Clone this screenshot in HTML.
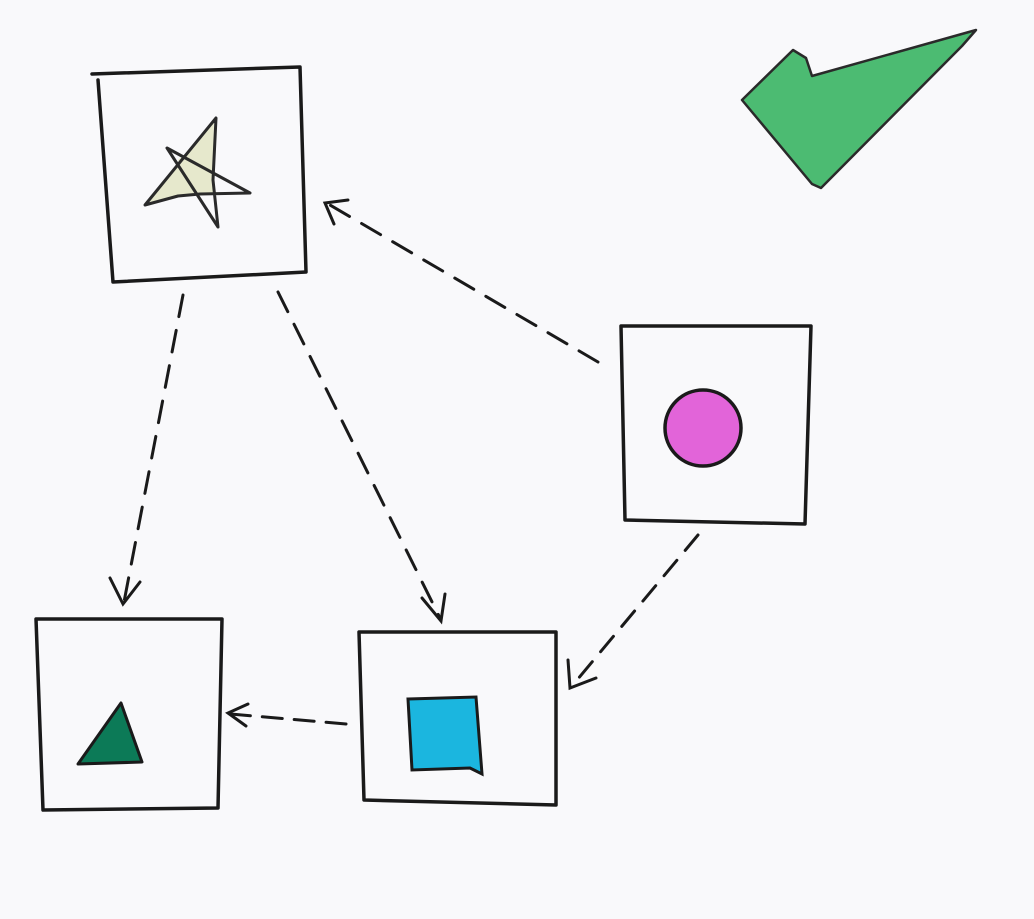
<!DOCTYPE html>
<html><head><meta charset="utf-8"><style>
html,body{margin:0;padding:0;background:#f9f9fb;}
svg{display:block;}
</style></head><body>
<svg width="1034" height="919" viewBox="0 0 1034 919" xmlns="http://www.w3.org/2000/svg">
<rect width="1034" height="919" fill="#f9f9fb"/>
<g fill="none" stroke="#1a1a1a" stroke-width="3.5" stroke-linejoin="round" stroke-linecap="round">
<path d="M92,74 L300,67 L306,272 L113,282 L98,80"/>
<path d="M621,326 L811,326 L805,524 L625,520 Z"/>
<path d="M36,619 L222,619 L218,808 L43,810 Z"/>
<path d="M359,632 L556,632 L556,805 L364,800 Z"/>
</g>
<path d="M742,100 L793,50 L806,58 L812,76 L976,30 L962,46 L821,188 L812,184 Z" fill="#4cbb72" stroke="#2a2a2a" stroke-width="2.5" stroke-linejoin="round"/>
<!-- star -->
<path d="M147,204 L214,120 L213,192 L248,193 L180,196 Z" fill="#e6e8cc"/>
<path d="M178,160 L213,130 L212,192 L185,188 Z" fill="#e6e8cc"/>
<path d="M145,205 L216,118 L213,180 L218,227 L167,148 L250,193 L200,194 L178,196 Z" fill="none" stroke="#2a2a2a" stroke-width="3" stroke-linejoin="round"/>
<circle cx="703" cy="428" r="38" fill="#e264d9" stroke="#1a1a1a" stroke-width="3.5"/>
<path d="M408,699 L476,697 L482,774 L470,768 L412,770 Z" fill="#1bb6df" stroke="#1a1a1a" stroke-width="3"/>
<path d="M78,764 L121,703 L142,762 Z" fill="#0c7a57" stroke="#1a1a1a" stroke-width="3" stroke-linejoin="round"/>
<g fill="none" stroke="#1a1a1a" stroke-width="3" stroke-linecap="round">
<path d="M598,362 L330,205" stroke-dasharray="22,14"/>
<path d="M334,224 L325,203 L348,200"/>
<path d="M183,295 L124,602" stroke-dasharray="22,14"/>
<path d="M110,578 L123,604 L140,582"/>
<path d="M278,292 L440,618" stroke-dasharray="22,14"/>
<path d="M422,598 L441,621 L445,594"/>
<path d="M698,535 L572,686" stroke-dasharray="20,13"/>
<path d="M568,660 L570,688 L596,678"/>
<path d="M346,724 L230,714" stroke-dasharray="20,12"/>
<path d="M248,704 L228,713 L246,726"/>
</g>
</svg>
</body></html>
